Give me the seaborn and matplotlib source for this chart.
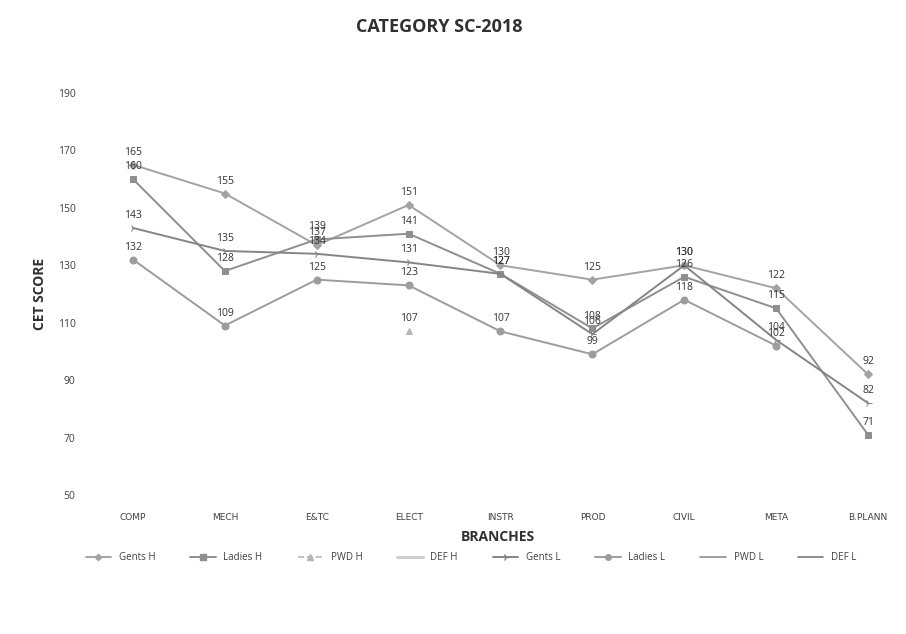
import matplotlib
matplotlib.use("Agg")
import matplotlib.pyplot as plt
import numpy as np
import pandas as pd
import seaborn as sns
from matplotlib.lines import Line2D

# Branches on the x axis
branches = ["COMP", "MECH", "E&TC", "ELECT", "INSTR", "PROD", "CIVIL", "META", "B.PLANN"]

# CET scores (nan = no value)
nan = np.nan
gents_h = [165, 155, 137, 151, 130, 125, 130, 122, 92]
ladies_h = [160, 128, 139, 141, 127, 108, 126, 115, 71]
pwd_h = [nan, nan, nan, 107, nan, nan, nan, nan, nan]
def_h = [nan] * 9
gents_l = [143, 135, 134, 131, 127, 106, 130, 104, 82]
ladies_l = [132, 109, 125, 123, 107, 99, 118, 102, nan]
pwd_l = [nan] * 9
def_l = [nan] * 9

series_names = ["Gents H", "Ladies H", "PWD H", "DEF H", "Gents L", "Ladies L", "PWD L", "DEF L"]
series_values = [gents_h, ladies_h, pwd_h, def_h, gents_l, ladies_l, pwd_l, def_l]

styles = {
    "Gents H": dict(color="#a3a3a3", marker="D", ms=4, ls="-", lw=1.4),
    "Ladies H": dict(color="#8f8f8f", marker="s", ms=5, ls="-", lw=1.4),
    "PWD H": dict(color="#b5b5b5", marker="^", ms=5, ls="--", lw=1.2),
    "DEF H": dict(color="#d0d0d0", marker="", ms=0, ls="-", lw=2.2),
    "Gents L": dict(color="#858585", marker="4", ms=6, ls="-", lw=1.4),
    "Ladies L": dict(color="#9c9c9c", marker="o", ms=5, ls="-", lw=1.4),
    "PWD L": dict(color="#909090", marker="", ms=0, ls="-", lw=1.2),
    "DEF L": dict(color="#7a7a7a", marker="", ms=0, ls="-", lw=1.2),
}

rows = []
for name, vals in zip(series_names, series_values):
    for i, v in enumerate(vals):
        rows.append({"series": name, "pos": i, "branch": branches[i], "score": v})
df = pd.DataFrame(rows)

sns.set_style("white")
plt.rcParams["font.family"] = ["Open Sans", "DejaVu Sans"]

fig = plt.figure(figsize=(9.06, 6.34), dpi=100)
ax = fig.add_axes([95 / 906, 1 - 495 / 634, (900 - 95) / 906, (495 - 93) / 634])

for name in series_names:
    sub = df[(df["series"] == name)].dropna(subset=["score"])
    if sub.empty:
        continue
    st = styles[name]
    sns.lineplot(data=sub, x="pos", y="score", ax=ax, color=st["color"],
                 marker=st["marker"] if st["marker"] else None, markersize=st["ms"],
                 linestyle=st["ls"], linewidth=st["lw"], markeredgecolor=st["color"],
                 legend=False, sort=False)
    for _, r in sub.iterrows():
        ax.annotate(f"{int(r['score'])}", (r["pos"], r["score"]), xytext=(0, 5),
                    textcoords="offset points", ha="center", va="bottom",
                    fontsize=7.5, color="#333333")

ax.set_xlim(-(133 - 95) / 91.9, 8 + (900 - 868) / 91.9)
ax.set_ylim(50, 190)
ax.set_yticks(range(50, 191, 20))
ax.set_yticklabels([str(v) for v in range(50, 191, 20)], fontsize=7.5, color="#404040")
ax.set_xticks(range(len(branches)))
ax.set_xticklabels(branches, fontsize=6.5, color="#404040", family="DejaVu Sans")
ax.tick_params(axis="y", length=0, pad=14)
ax.tick_params(axis="x", length=0, pad=13)
for sp in ax.spines.values():
    sp.set_visible(False)
ax.grid(False)

ax.set_xlabel("BRANCHES", fontsize=10, fontweight="bold", color="#303030", labelpad=6)
ax.set_ylabel("CET SCORE", fontsize=10, fontweight="bold", color="#303030", labelpad=8)
fig.suptitle("CATEGORY SC-2018", x=0.485, y=1 - 18 / 634, fontsize=13,
             fontweight="bold", color="#303030")

handles = []
for name in series_names:
    st = styles[name]
    handles.append(Line2D([0], [0], color=st["color"], linestyle=st["ls"], linewidth=st["lw"],
                          marker=st["marker"] if st["marker"] else None,
                          markersize=st["ms"] * 0.8, markeredgecolor=st["color"]))
fig.legend(handles, series_names, loc="center", ncol=8, frameon=False,
           bbox_to_anchor=(0.52, 1 - 558 / 634), fontsize=7, handlelength=2.6,
           columnspacing=3.6, labelcolor="#404040")

fig.savefig("out.png", dpi=100)
